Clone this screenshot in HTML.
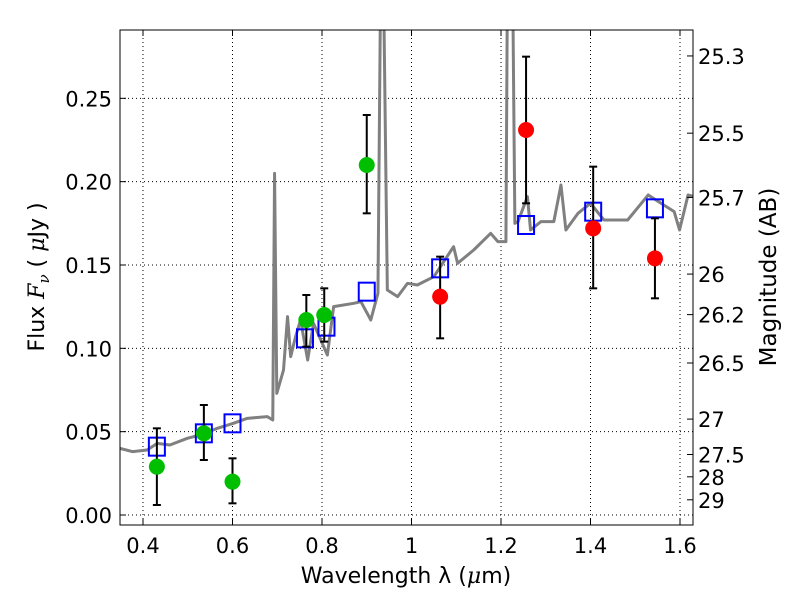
<!DOCTYPE html>
<html><head><meta charset="utf-8"><style>
body{margin:0;background:#fff;width:800px;height:600px;overflow:hidden}
text{font-family:"DejaVu Sans","Liberation Sans",sans-serif;fill:#000}
.m{font-family:"DejaVu Serif","Liberation Serif",serif;font-style:italic}
</style></head><body>
<svg id="c" width="800" height="600">
<defs><clipPath id="clip"><rect x="120" y="30" width="573" height="495"/></clipPath></defs>
<g id="grid"></g>
<g id="spec" clip-path="url(#clip)"></g>
<g id="marks" clip-path="url(#clip)"></g>
<rect x="120" y="30" width="573" height="495" fill="none" stroke="#000" stroke-width="1"/>
<g id="axes"></g>
<text x="406" y="583" font-size="22" text-anchor="middle">Wavelength  λ (<tspan class="m">μ</tspan>m)</text>
<text transform="translate(44,277) rotate(-90)" font-size="22" text-anchor="middle">Flux  <tspan class="m">F</tspan><tspan class="m" font-size="15" dy="5">ν</tspan><tspan dy="-5">  ( </tspan><tspan class="m">μ</tspan>Jy )</text>
<text transform="translate(776,277) rotate(-90)" font-size="23" text-anchor="middle">Magnitude (AB)</text>
</svg>
<script>
const specLam=[.348,.377,.409,.432,.460,.499,.528,.566,.602,.633,.678,.690,.694,.699,.714,.723,.730,.741,.752,.768,.781,.812,.826,.871,.887,.909,.925,.932,.936,.946,.969,.991,1.013,1.050,1.094,1.103,1.139,1.177,1.193,1.211,1.215,1.225,1.231,1.238,1.259,1.266,1.289,1.318,1.334,1.345,1.372,1.400,1.430,1.483,1.529,1.558,1.587,1.599,1.618,1.632];
const specFlux=[.040,.038,.039,.043,.042,.046,.048,.052,.055,.058,.059,.057,.205,.073,.087,.119,.095,.107,.117,.093,.115,.096,.125,.127,.128,.117,.133,.35,.35,.135,.131,.139,.138,.143,.161,.151,.159,.169,.164,.164,.35,.35,.175,.176,.191,.171,.176,.176,.198,.171,.181,.187,.177,.177,.192,.187,.182,.171,.192,.191];
const greenLam=[0.431,0.536,0.600,0.765,0.805,0.900];
const greenFlux=[0.029,0.049,0.020,0.117,0.120,0.210];
const greenLo=[0.006,0.033,0.007,0.101,0.104,0.181];
const greenHi=[0.052,0.066,0.034,0.132,0.136,0.240];
const redLam=[1.064,1.256,1.406,1.544];
const redFlux=[0.131,0.231,0.172,0.154];
const redLo=[0.106,0.187,0.136,0.130];
const redHi=[0.155,0.275,0.209,0.178];
const modelLam=[0.431,0.536,0.600,0.762,0.810,0.900,1.064,1.256,1.406,1.544];
const modelFlux=[0.041,0.049,0.055,0.106,0.113,0.134,0.148,0.174,0.182,0.184];
const xTicks=[0.4,0.6,0.8,1.0,1.2,1.4,1.6];
const xTickLabels=["0.4","0.6","0.8","1","1.2","1.4","1.6"];
const yTicks=[0,0.05,0.1,0.15,0.2,0.25];
const yTickLabels=["0.00","0.05","0.10","0.15","0.20","0.25"];
const magTicks=[25.3,25.5,25.7,26,26.2,26.5,27,27.5,28,29];
const magLabels=["25.3","25.5","25.7","26","26.2","26.5","27","27.5","28","29"];

const X=l=>143+(l-0.4)*447.5, Y=f=>515-f*1666.7;
const NS="http://www.w3.org/2000/svg";
function mk(p,t,a){const e=document.createElementNS(NS,t);for(const k in a)e.setAttribute(k,a[k]);p.appendChild(e);return e;}
const grid=document.getElementById('grid'),axes=document.getElementById('axes');
xTicks.forEach((v,i)=>{const x=X(v);
 const g=mk(grid,'line',{x1:x,x2:x,y1:30,y2:525,stroke:'#000','stroke-dasharray':'1,3','stroke-width':1});
 
 mk(axes,'line',{x1:x,x2:x,y1:525,y2:519,stroke:'#000'});mk(axes,'line',{x1:x,x2:x,y1:30,y2:36,stroke:'#000'});
 const t=mk(axes,'text',{x:x,y:553,'font-size':21,'text-anchor':'middle'});t.textContent=xTickLabels[i];
 });
yTicks.forEach((v,i)=>{const y=Y(v);
 const g=mk(grid,'line',{x1:120,x2:693,y1:y,y2:y,stroke:'#000','stroke-dasharray':'1,3','stroke-width':1});
 
 mk(axes,'line',{x1:120,x2:126,y1:y,y2:y,stroke:'#000'});
 const t=mk(axes,'text',{x:112,y:y+8,'font-size':21,'text-anchor':'end'});t.textContent=yTickLabels[i];
 });
magTicks.forEach((m,i)=>{const y=Y(Math.pow(10,(23.9-m)/2.5));
 mk(axes,'line',{x1:687,x2:693,y1:y,y2:y,stroke:'#000'});
 const t=mk(axes,'text',{x:698,y:y+8,'font-size':21});t.textContent=magLabels[i];
 });
const sp=mk(document.getElementById('spec'),'polyline',{points:specLam.map((l,i)=>X(l)+','+Y(specFlux[i])).join(' '),fill:'none',stroke:'#808080','stroke-width':3,'stroke-linejoin':'round'});

const marks=document.getElementById('marks');
modelLam.forEach((l,i)=>{const r=mk(marks,'rect',{x:X(l)-8,y:Y(modelFlux[i])-9,width:16,height:18,fill:'none',stroke:'#0000ff','stroke-width':2});
 });
function pts(lam,fl,lo,hi,col,name){lam.forEach((l,i)=>{const x=X(l);
 const g=mk(marks,'g',{});
 mk(g,'line',{x1:x,x2:x,y1:Y(lo[i]),y2:Y(hi[i]),stroke:'#000','stroke-width':2});
 mk(g,'line',{x1:x-4,x2:x+4,y1:Y(lo[i]),y2:Y(lo[i]),stroke:'#000','stroke-width':2});
 mk(g,'line',{x1:x-4,x2:x+4,y1:Y(hi[i]),y2:Y(hi[i]),stroke:'#000','stroke-width':2});
 const c=mk(marks,'circle',{cx:x,cy:Y(fl[i]),r:8,fill:col});
 });}
pts(greenLam,greenFlux,greenLo,greenHi,'#00bf00','green-photometry');
pts(redLam,redFlux,redLo,redHi,'#ff0000','red-photometry');
</script>
</body></html>
